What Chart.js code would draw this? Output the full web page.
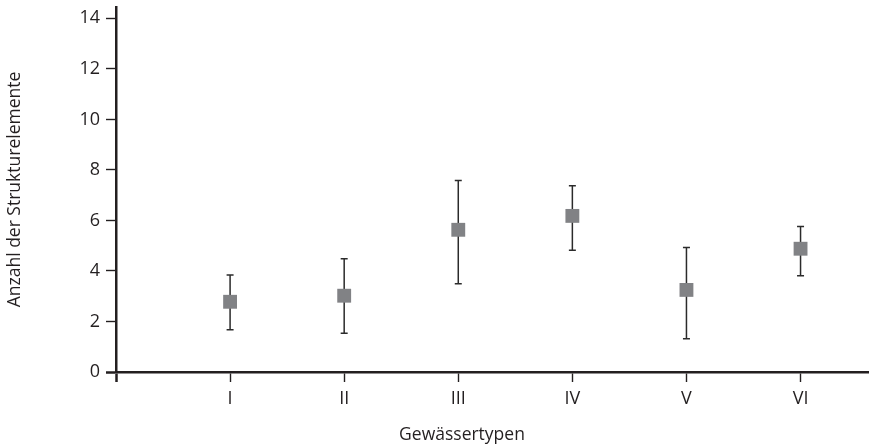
<!DOCTYPE html>
<html>
<head>
<meta charset="utf-8">
<script src="https://cdn.jsdelivr.net/npm/chart.js@4.4.0/dist/chart.umd.min.js"></script>
<style>
  body { margin: 0; background: #fff; }
  #wrap { width: 869px; height: 448px; position: relative; }
</style>
</head>
<body>
<div id="wrap"><canvas id="chart"></canvas></div>
<script>
// Werte
const categories = ['I', 'II', 'III', 'IV', 'V', 'VI'];
const means = [2.78, 3.02, 5.63, 6.18, 3.25, 4.88];
const upper = [3.84, 4.48, 7.58, 7.37, 4.93, 5.76];
const lower = [1.67, 1.53, 3.49, 4.82, 1.32, 3.81];
const yTicks = [0, 2, 4, 6, 8, 10, 12, 14];

const ink = '#231f20';
const fontFamily = '"Open Sans", sans-serif';

// Fehlerbalken ueber die Skalen zeichnen
const errorBars = {
    id: 'errorBars',
    beforeDatasetsDraw(chart) {
        const ctx = chart.ctx;
        const xs = chart.scales.x;
        const ys = chart.scales.y;
        ctx.save();
        ctx.strokeStyle = '#2b2b2b';
        ctx.lineWidth = 1.5;
        for (let i = 0; i < categories.length; i++) {
            const px = xs.getPixelForValue(i + 1);
            const top = ys.getPixelForValue(upper[i]);
            const bot = ys.getPixelForValue(lower[i]);
            ctx.beginPath();
            ctx.moveTo(px, top);
            ctx.lineTo(px, bot);
            ctx.moveTo(px - 3.5, top);
            ctx.lineTo(px + 3.5, top);
            ctx.moveTo(px - 3.5, bot);
            ctx.lineTo(px + 3.5, bot);
            ctx.stroke();
        }
        ctx.restore();
    }
};

// x-Achsentitel (nicht mittig in der Vorlage)
const xTitle = {
    id: 'xTitle',
    afterDraw(chart) {
        const ctx = chart.ctx;
        ctx.save();
        ctx.font = '17.5px ' + fontFamily;
        ctx.fillStyle = ink;
        ctx.textAlign = 'center';
        ctx.textBaseline = 'alphabetic';
        ctx.fillText('Gewässertypen', 462, 440);
        ctx.restore();
    }
};

const ctx = document.getElementById('chart').getContext('2d');
const chart = new Chart(ctx, {
    type: 'scatter',
    data: {
        datasets: [{
            data: means.map((v, i) => ({ x: i + 1, y: v })),
            pointStyle: 'rect',
            pointRadius: 9.8,
            pointHoverRadius: 9.8,
            backgroundColor: '#818285',
            borderWidth: 0
        }]
    },
    options: {
        responsive: true,
        maintainAspectRatio: false,
        animation: false,
        layout: { autoPadding: false, padding: { top: 7, right: 0, left: 0, bottom: 0 } },
        plugins: {
            legend: { display: false },
            tooltip: { enabled: false }
        },
        scales: {
            x: {
                type: 'linear',
                min: 0,
                max: 6.6,
                afterBuildTicks: (s) => { s.ticks = [0, 1, 2, 3, 4, 5, 6].map(v => ({ value: v })); },
                afterFit: (s) => {
                    s.height = 76;
                    s.paddingLeft = 0;
                    s.paddingRight = 0;
                },
                ticks: {
                    stepSize: 1,
                    color: ink,
                    padding: 6,
                    maxRotation: 0,
                    font: { family: fontFamily, size: 18 },
                    callback: (v) => categories[v - 1] || ''
                },
                grid: {
                    drawOnChartArea: false,
                    drawTicks: true,
                    tickLength: 10,
                    tickColor: ink,
                    tickWidth: (c) => c.tick && c.tick.value === 0 ? 2.5 : 1.4
                },
                border: { display: true, color: ink, width: 2.5 }
            },
            y: {
                type: 'linear',
                min: 0,
                max: 14.45,
                afterBuildTicks: (s) => { s.ticks = yTicks.map(v => ({ value: v })); },
                afterFit: (s) => {
                    s.width = 116;
                    s.paddingTop = 0;
                    s.paddingBottom = 0;
                },
                ticks: {
                    color: ink,
                    padding: 6,
                    font: { family: fontFamily, size: 18 }
                },
                grid: {
                    drawOnChartArea: false,
                    drawTicks: true,
                    tickLength: 10,
                    tickColor: ink,
                    tickWidth: (c) => c.tick && c.tick.value === 0 ? 2.5 : 1.4
                },
                border: { display: true, color: ink, width: 2.5 },
                title: {
                    display: true,
                    text: 'Anzahl der Strukturelemente',
                    color: ink,
                    padding: { top: 4.5, bottom: 0 },
                    font: { family: fontFamily, size: 17.5 }
                }
            }
        }
    },
    plugins: [errorBars, xTitle]
});
</script>
</body>
</html>
